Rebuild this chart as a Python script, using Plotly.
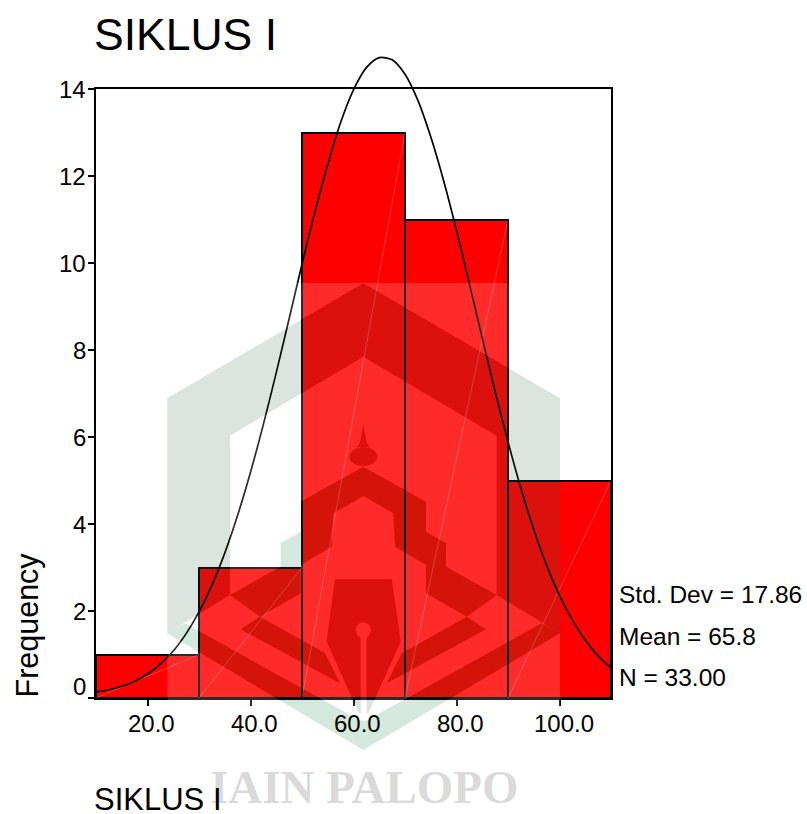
import math
import plotly.graph_objects as go

bin_centers = [20, 40, 60, 80, 100]
frequencies = [1, 3, 13, 11, 5]
bin_width = 20
curve_x = [10, 12.5, 15, 17.5, 20, 22.5, 25, 27.5, 30, 32.5, 35, 37.5, 40, 42.5, 45, 47.5, 50, 52.5, 55, 57.5,
           60, 62.5, 65, 67.5, 70, 72.5, 75, 77.5, 80, 82.5, 85, 87.5, 90, 92.5, 95, 97.5, 100, 102.5, 105, 107.5, 110]
curve_y = [0.14, 0.19, 0.27, 0.38, 0.55, 0.78, 1.08, 1.48, 1.98, 2.59, 3.33, 4.2, 5.19, 6.29, 7.48, 8.72, 9.97,
           11.17, 12.27, 13.23, 13.98, 14.49, 14.72, 14.67, 14.34, 13.74, 12.9, 11.89, 10.75, 9.52, 8.27, 7.05,
           5.89, 4.82, 3.87, 3.05, 2.36, 1.79, 1.33, 0.97, 0.69]
y_ticks = [0, 2, 4, 6, 8, 10, 12, 14]
y_labels = ["0", "2", "4", "6", "8", "10", "12", "14"]
x_ticks = [20, 40, 60, 80, 100]
x_labels = ["20.0", "40.0", "60.0", "80.0", "100.0"]
stats = ["Std. Dev = 17.86", "Mean = 65.8", "N = 33.00"]

W, H = 807, 814
L, R, T, B = 96, 611, 45, 698   # plotting region including headroom for the curve
FRAME_TOP = 89
FONT = "Liberation Sans"
y_max = 14
frame_frac = (B - FRAME_TOP) / (B - T)

def px(x): return (x - L) / (R - L)
def py(y): return (B - y) / (B - T)

fig = go.Figure()
fig.add_trace(go.Bar(x=bin_centers, y=frequencies, width=bin_width,
                     marker=dict(color="#FF0000", line=dict(color="black", width=2)),
                     showlegend=False, hoverinfo="skip"))
for c, f in zip(bin_centers, frequencies):
    fig.add_trace(go.Scatter(x=[c - bin_width / 2, c + bin_width / 2], y=[0, f], mode="lines",
                             line=dict(color="rgba(255,255,255,0.38)", width=0.6),
                             showlegend=False, hoverinfo="skip"))
fig.add_trace(go.Scatter(x=curve_x, y=curve_y, mode="lines", xaxis="x", yaxis="y2",
                         line=dict(color="black", width=1.7, shape="spline", smoothing=0.8),
                         showlegend=False, hoverinfo="skip"))

# watermark geometry (decoration, not data), in reference-crop pixels
def z(p): return (150 + p[0] / 3, 270 + p[1] / 3)
def path(points):
    pts = [z(p) for p in points]
    return "M " + " L ".join(f"{px(a):.5f},{py(b):.5f}" for a, b in pts) + " Z"
def mirror(points):
    return [(1280 - a, b) for a, b in reversed(points)]
def ellipse(cx, cy, rx, ry, n=24):
    return [(cx + rx * math.cos(2 * math.pi * i / n), cy + ry * math.sin(2 * math.pi * i / n)) for i in range(n)]

gray = [(640, 40), (1230, 385), (1230, 1090), (1040, 975), (1040, 497), (640, 260), (240, 497), (240, 975), (52, 1090), (52, 385)]
vee = [(52, 1090), (105, 1060), (510, 1285), (632, 1352), (648, 1352), (770, 1285), (1175, 1060), (1230, 1090), (640, 1440)]
house_r = [(640, 590), (828, 695), (828, 785), (888, 820), (888, 890), (1040, 975), (950, 1040), (828, 970), (828, 885), (735, 830), (730, 730), (640, 678)]
house = house_r + mirror(house_r)[1:-1]
wing_r = [(950, 1040), (1008, 1078), (710, 1240), (755, 1150)]
wing_l = mirror(wing_r)
pen = [(555, 928), (725, 928), (752, 1115), (655, 1330), (650, 1330), (650, 1103), (657, 1097), (664, 1080),
       (657, 1063), (640, 1056), (623, 1063), (616, 1080), (623, 1097), (632, 1103), (632, 1330), (627, 1330), (530, 1115)]
dome = ellipse(640, 560, 42, 28)
spire = [(640, 465), (650, 518), (660, 532), (620, 532), (630, 518)]

veil = [(52, 39), (1230, 39), (1230, 1700), (52, 1700)]
veil_path = " ".join(path(p) for p in [veil, gray, vee, house, wing_r, wing_l, spire, dome, pen])
shapes = [dict(type="path", xref="paper", yref="paper", path=veil_path, layer="above",
               fillcolor="rgba(255,255,255,0.17)", line=dict(width=0), fillrule="evenodd")]
for polys, col in [([gray], "rgba(47,94,70,0.17)"),
                   ([vee, house, wing_r, wing_l], "rgba(6,118,53,0.17)"),
                   ([spire, dome, pen], "rgba(47,94,70,0.17)")]:
    for p in polys:
        shapes.append(dict(type="path", xref="paper", yref="paper", path=path(p), layer="above",
                           fillcolor=col, line=dict(width=0)))

def ann(text, x, y, size, color="black", xanchor="left", family=FONT, textangle=0):
    return dict(text=text, x=px(x), y=py(y), xref="paper", yref="paper", showarrow=False,
                xanchor=xanchor, yanchor="middle", textangle=textangle,
                font=dict(family=family, size=size, color=color), borderpad=0, borderwidth=0)

annotations = [
    ann("<b>IAIN PALOPO</b>", 364, 787, 47, color="rgba(60,60,60,0.2)", xanchor="center", family="Liberation Serif"),
    ann("SIKLUS I", 94, 34, 44.5),
    ann("SIKLUS I", 94, 799, 31),
    ann("Frequency", 26.5, 625, 30.5, textangle=-90, xanchor="center"),
    ann(stats[0], 619, 594, 24.5),
    ann(stats[1], 619, 636, 24.5),
    ann(stats[2], 619, 677, 24.5),
]
for v, lab in zip(x_ticks, x_labels):
    annotations.append(dict(text=lab, x=v, xref="x", y=py(723), yref="paper", xshift=4, showarrow=False,
                            xanchor="center", yanchor="middle", font=dict(family=FONT, size=24, color="black")))
for v, lab in zip(y_ticks, y_labels):
    annotations.append(dict(text=lab, x=px(88), xref="paper", y=v, yref="y", yshift=12 if v == 0 else 0,
                            showarrow=False, xanchor="right", yanchor="middle",
                            font=dict(family=FONT, size=24, color="black")))

fig.update_layout(
    width=W, height=H, autosize=False, paper_bgcolor="white", plot_bgcolor="rgba(0,0,0,0)",
    margin=dict(l=L, r=W - R, t=T, b=H - B, pad=0), bargap=0, showlegend=False,
    font=dict(family=FONT, size=24, color="black"), shapes=shapes, annotations=annotations,
    xaxis=dict(range=[10, 110], tickvals=x_ticks, ticktext=[""] * len(x_ticks), ticks="outside", ticklen=6,
               tickwidth=1.5, tickcolor="black", showgrid=False, zeroline=False, showline=True,
               linecolor="black", linewidth=2, mirror=True, anchor="y", layer="above traces"),
    yaxis=dict(domain=[0, frame_frac], range=[0, y_max], tickvals=y_ticks, ticktext=[""] * len(y_ticks), ticks="outside", ticklen=6,
               tickwidth=1.5, tickcolor="black", showgrid=False, zeroline=False, showline=True,
               linecolor="black", linewidth=2, mirror=True,
               layer="above traces", anchor="x"),
    yaxis2=dict(domain=[0, 1], range=[0, y_max / frame_frac], visible=False, anchor="x"),
)
fig.write_html("out.html", post_script="document.body.style.margin='0';", config={"displayModeBar": False})
